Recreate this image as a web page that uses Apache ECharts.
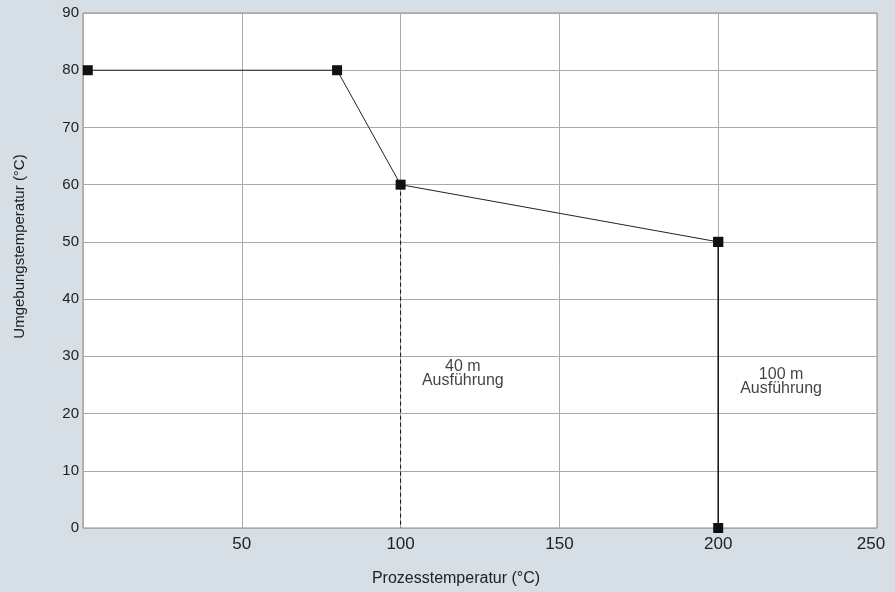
<!DOCTYPE html>
<html><head><meta charset="utf-8">
<script src="https://cdn.jsdelivr.net/npm/echarts@6/dist/echarts.min.js"></script>
<style>html,body{margin:0;padding:0;background:#d5dfe5;}#c{width:895px;height:592px;}</style>
</head><body><div id="c"></div>
<script>
const mainX = [1.5, 80, 100, 200];
const mainY = [80, 80, 60, 50];
const dash100X = [100, 100];
const dash100Y = [60, 0];
const solid200X = [200, 200];
const solid200Y = [50, 0];
const noteText = ['40 m\nAusführung', '100 m\nAusführung'];
const noteX = [119.6, 219.8];
const noteY = [27.0, 25.6];
const xTitle = 'Prozesstemperatur (°C)';
const yTitle = 'Umgebungstemperatur (°C)';

const zip = (a, b) => a.map((v, i) => [v, b[i]]);
const font = 'Liberation Sans, Arial, sans-serif';
const txt = '#222';
const chart = echarts.init(document.getElementById('c'));
chart.setOption({
  backgroundColor: '#d5dfe5',
  animation: false,
  grid: { left: 83, right: 18, top: 13, bottom: 62, show: true, backgroundColor: '#fff', borderColor: '#8a8a8a', borderWidth: 1 },
  xAxis: {
    type: 'value', min: 0, max: 250, interval: 50,
    name: xTitle, nameLocation: 'middle', nameGap: 43,
    nameTextStyle: { fontFamily: font, fontSize: 16, color: txt, padding: [0, 48, 0, 0] },
    axisLine: { show: false }, axisTick: { show: false },
    axisLabel: {
      showMinLabel: false, fontFamily: font, fontSize: 17, color: txt, margin: 8,
      formatter: v => v === 250 ? '{m|' + v + '}' : String(v),
      rich: { m: { fontFamily: font, fontSize: 17, color: txt, padding: [0, 12, 0, 0] } }
    },
    splitLine: { lineStyle: { color: '#aaa', width: 1 } }
  },
  yAxis: {
    type: 'value', min: 0, max: 90, interval: 10,
    name: yTitle, nameLocation: 'middle', nameGap: 56, nameRotate: 90,
    nameTextStyle: { fontFamily: font, fontSize: 15, color: txt, padding: [0, 0, 0, 48] },
    axisLine: { show: false }, axisTick: { show: false },
    axisLabel: { fontFamily: font, fontSize: 15, color: txt, margin: 4 },
    splitLine: { lineStyle: { color: '#aaa', width: 1 } }
  },
  series: [
    { type: 'line', data: zip(dash100X, dash100Y), symbol: 'none', lineStyle: { color: '#111', width: 1, type: [4, 3] }, z: 3 },
    { type: 'line', data: zip(solid200X, solid200Y), symbol: 'rect', symbolSize: 10, showAllSymbol: true,
      itemStyle: { color: '#111' }, lineStyle: { color: '#111', width: 1.5 }, z: 4 },
    { type: 'line', data: zip(mainX, mainY), symbol: 'rect', symbolSize: 10,
      itemStyle: { color: '#111' }, lineStyle: { color: '#222', width: 1 }, z: 5 },
    { type: 'scatter', data: noteX.map((x, i) => ({ value: [x, noteY[i]], label: { formatter: noteText[i] } })),
      symbolSize: 0, silent: true, itemStyle: { color: 'transparent' },
      label: { show: true, position: 'inside', fontFamily: font, fontSize: 16, lineHeight: 14, color: '#111',
               textBorderWidth: 0, textBorderColor: 'transparent', align: 'center' } }
  ]
});
</script></body></html>
